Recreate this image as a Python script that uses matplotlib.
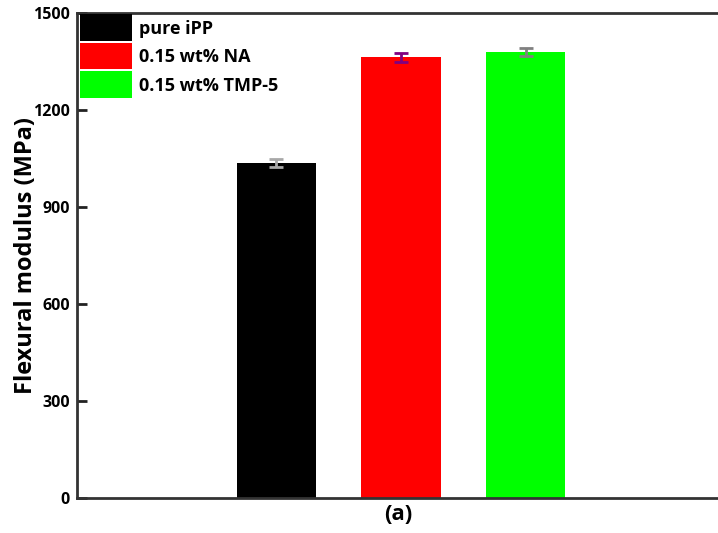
import matplotlib
matplotlib.use("Agg")
import matplotlib.pyplot as plt
from matplotlib.patches import Rectangle
from matplotlib.legend_handler import HandlerPatch

# data
labels = ["pure iPP", "0.15 wt% NA", "0.15 wt% TMP-5"]
modulus = [1037, 1363, 1380]
errors = [12, 14, 13]
bar_colors = ["#000000", "#ff0000", "#00ff00"]
err_colors = ["#a8a8a8", "#800080", "#808080"]
yticks = [0, 300, 600, 900, 1200, 1500]

plt.rcParams['font.family'] = ['Open Sans', 'DejaVu Sans']
plt.rcParams['font.weight'] = 'bold'


def big_box(legend, orig_handle, xdescent, ydescent, width, height, fontsize):
    # taller legend swatches than matplotlib's default
    h = 19.0
    return Rectangle((-xdescent, height / 2 - h / 2), width, h)


fig = plt.figure(figsize=(7.18, 5.33), dpi=100)
# right edge of the axes sits at the picture edge, as in the reference
ax = fig.add_axes([77 / 718, 35 / 533, 643 / 718, 485 / 533])

xpos = [1, 2, 3]
handles = []
for x, v, e, c, ec, lab in zip(xpos, modulus, errors, bar_colors, err_colors, labels):
    bars = ax.bar(x, v, width=0.635, color=c, label=lab, zorder=2)
    handles.append(bars.patches[0])
    ax.errorbar(x, v, yerr=e, fmt='none', ecolor=ec, elinewidth=2,
                capsize=5, capthick=2, zorder=3)

ax.set_xlim(-0.602, 4.562)
ax.set_ylim(0, 1500)
ax.set_yticks(yticks)
ax.set_yticklabels([str(t) for t in yticks], fontsize=11.5, fontweight='bold')
ax.set_xticks([])
ax.tick_params(axis='y', direction='in', length=7, width=2, pad=5, color='#222222')

for s in ax.spines.values():
    s.set_linewidth(2)
    s.set_color('#333333')
ax.spines['right'].set_visible(False)

ax.set_ylabel("Flexural modulus (MPa)", fontsize=17, fontweight='bold')
ax.yaxis.set_label_coords(-0.061, 0.5)
ax.set_xlabel("(a)", fontsize=16, fontweight='bold', labelpad=4)

ax.legend(handles=handles, labels=labels, loc='upper left',
          bbox_to_anchor=(0.003, 0.9874), frameon=False,
          handlelength=2.9, handleheight=0.7, labelspacing=0.58, handletextpad=0.4,
          borderpad=0.05, borderaxespad=0.0, prop={'weight': 'bold', 'size': 13},
          handler_map={Rectangle: HandlerPatch(patch_func=big_box)})

fig.savefig("out.png", dpi=100)
